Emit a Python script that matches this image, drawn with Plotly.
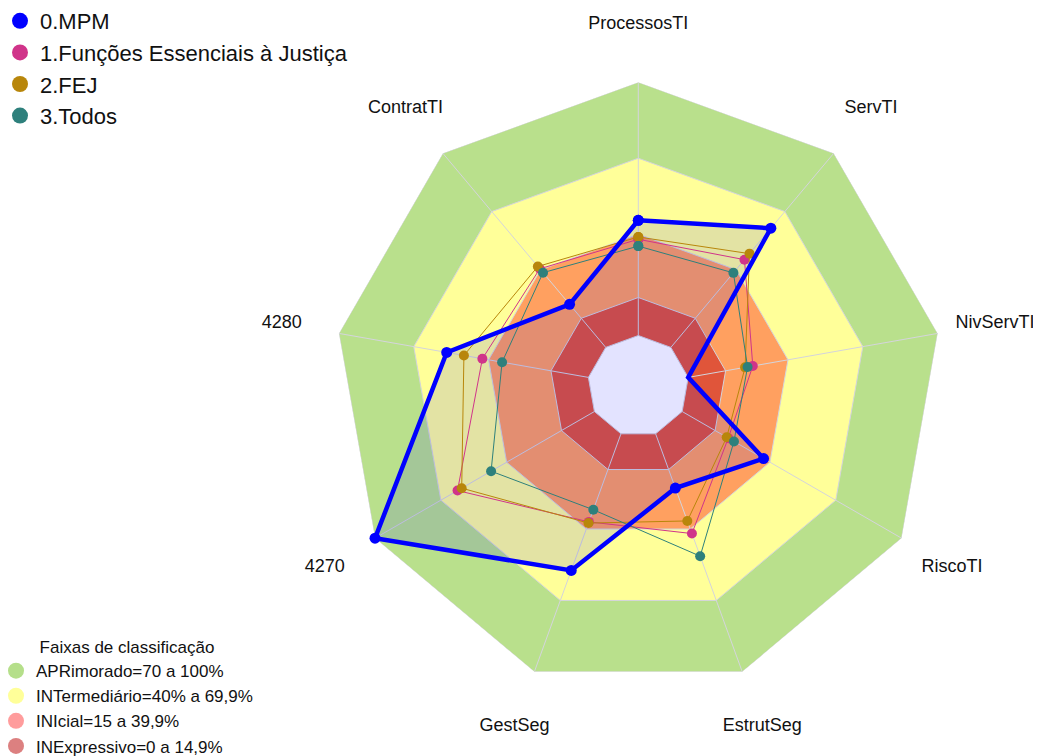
import plotly.graph_objects as go

# ---- data ----
categories = ["ProcessosTI", "ServTI", "NivServTI", "RiscoTI", "EstrutSeg",
              "GestSeg", "4270", "4280", "ContratTI"]
mpm = [45.5, 61.4, 0.0, 37.1, 22.8, 57.4, 100.0, 56.8, 22.2]
func_essenciais = [38.0, 45.2, 25.9, 21.0, 41.9, 37.0, 62.4, 42.5, 40.5]
fej = [38.9, 48.3, 22.8, 20.3, 36.6, 37.5, 60.5, 49.9, 41.7]
todos = [35.3, 38.4, 23.8, 23.6, 51.4, 31.9, 47.1, 34.6, 38.5]

series_names = ["0.MPM", "1.Funções Essenciais à Justiça", "2.FEJ", "3.Todos"]
series_colors = ["#0000ff", "#d0348a", "#b8860b", "#2e807c"]

band_names = ["APRimorado=70 a 100%", "INTermediário=40% a 69,9%",
              "INIcial=15 a 39,9%", "INExpressivo=0 a 14,9%"]
band_upper = [100, 70, 40, 15, 0]
band_fill = ["#b9e08c", "#ffff99", "#ffa060", "#e0553a", "#ffffff"]
band_legend_colors = ["#b5df8a", "#ffff99", "#ff9c9c", "#dc8080"]

radial_range = [-20, 100]
label_range = [-20, 126.1]
label_r = 123

FONT = "Liberation Sans, Arial, sans-serif"
closed = categories + [categories[0]]

# page offset compensation (body margin) and geometry in px
W, H = 1041, 756
cx, cy = 630.3, 378.2          # figure px (from left / from top)
R1, R2 = 304.0, 370.0


def dom(R):
    return dict(x=[(cx - R) / W, (cx + R) / W],
                y=[(H - cy - R) / H, (H - cy + R) / H])


def close(vals):
    return list(vals) + [vals[0]]


fig = go.Figure()

# classification bands
for up, col in zip(band_upper, band_fill):
    fig.add_trace(go.Scatterpolar(
        r=[up] * len(closed), theta=closed, mode="lines", fill="toself",
        fillcolor=col, line=dict(color="#d4d4dc", width=1),
        showlegend=False, hoverinfo="skip"))

# spokes
spoke_r, spoke_t = [], []
for c in categories:
    spoke_r += [0, 100, None]
    spoke_t += [c, c, None]
fig.add_trace(go.Scatterpolar(
    r=spoke_r, theta=spoke_t, mode="lines",
    line=dict(color="#d4d4dc", width=1), showlegend=False, hoverinfo="skip"))

# MPM fill
fig.add_trace(go.Scatterpolar(
    r=close(mpm), theta=closed, mode="lines", fill="toself",
    fillcolor="rgba(0,0,255,0.11)", line=dict(width=0, color="rgba(0,0,0,0)"),
    showlegend=False, hoverinfo="skip"))

# comparison series
for vals, name, col in zip([func_essenciais, fej, todos], series_names[1:], series_colors[1:]):
    fig.add_trace(go.Scatterpolar(
        r=close(vals), theta=closed, mode="lines+markers", name=name,
        line=dict(color=col, width=1), marker=dict(color=col, size=10),
        showlegend=False))

# MPM line
fig.add_trace(go.Scatterpolar(
    r=close(mpm), theta=closed, mode="lines+markers", name=series_names[0],
    line=dict(color=series_colors[0], width=4.5),
    marker=dict(color=series_colors[0], size=11), showlegend=False))

# category labels (on a larger, transparent overlay polar with same centre)
fig.add_trace(go.Scatterpolar(
    r=[label_r] * len(categories), theta=categories, mode="text",
    text=categories, textposition="middle center", subplot="polar2",
    textfont=dict(family=FONT, size=18, color="#111111"),
    cliponaxis=False, showlegend=False, hoverinfo="skip"))

# legend entries
for name, col in zip(series_names, series_colors):
    fig.add_trace(go.Scatterpolar(
        r=[None], theta=[categories[0]], mode="markers", name=name,
        marker=dict(color=col, size=30), legend="legend"))
for name, col in zip(band_names, band_legend_colors):
    fig.add_trace(go.Scatterpolar(
        r=[None], theta=[categories[0]], mode="markers", name=name,
        marker=dict(color=col, size=30), legend="legend2"))

fig.update_layout(
    width=W, height=H,
    margin=dict(l=0, r=0, t=0, b=0, autoexpand=False),
    paper_bgcolor="white",
    font=dict(family=FONT, color="#111111"),
    polar=dict(
        domain=dom(R1),
        bgcolor="white",
        gridshape="linear",
        radialaxis=dict(visible=False, range=radial_range),
        angularaxis=dict(rotation=90, direction="clockwise", showgrid=False,
                         showline=False, showticklabels=False, ticks=""),
    ),
    polar2=dict(
        domain=dom(R2),
        bgcolor="rgba(0,0,0,0)",
        radialaxis=dict(visible=False, range=label_range),
        angularaxis=dict(rotation=90, direction="clockwise", showgrid=False,
                         showline=False, showticklabels=False, ticks="",
                         categoryarray=categories, categoryorder="array"),
    ),
    legend=dict(x=-8 / W, y=1 + 8 / H, xanchor="left", yanchor="top",
                font=dict(family=FONT, size=22, color="#111111"),
                bgcolor="rgba(0,0,0,0)", tracegroupgap=0),
    legend2=dict(x=-12 / W, y=0.0, xanchor="left", yanchor="bottom",
                 title=dict(text="Faixas de classificação", side="top center",
                            font=dict(family=FONT, size=17, color="#111111")),
                 font=dict(family=FONT, size=17, color="#111111"),
                 bgcolor="rgba(0,0,0,0)", tracegroupgap=0),
)

fig.write_html("out.html")
